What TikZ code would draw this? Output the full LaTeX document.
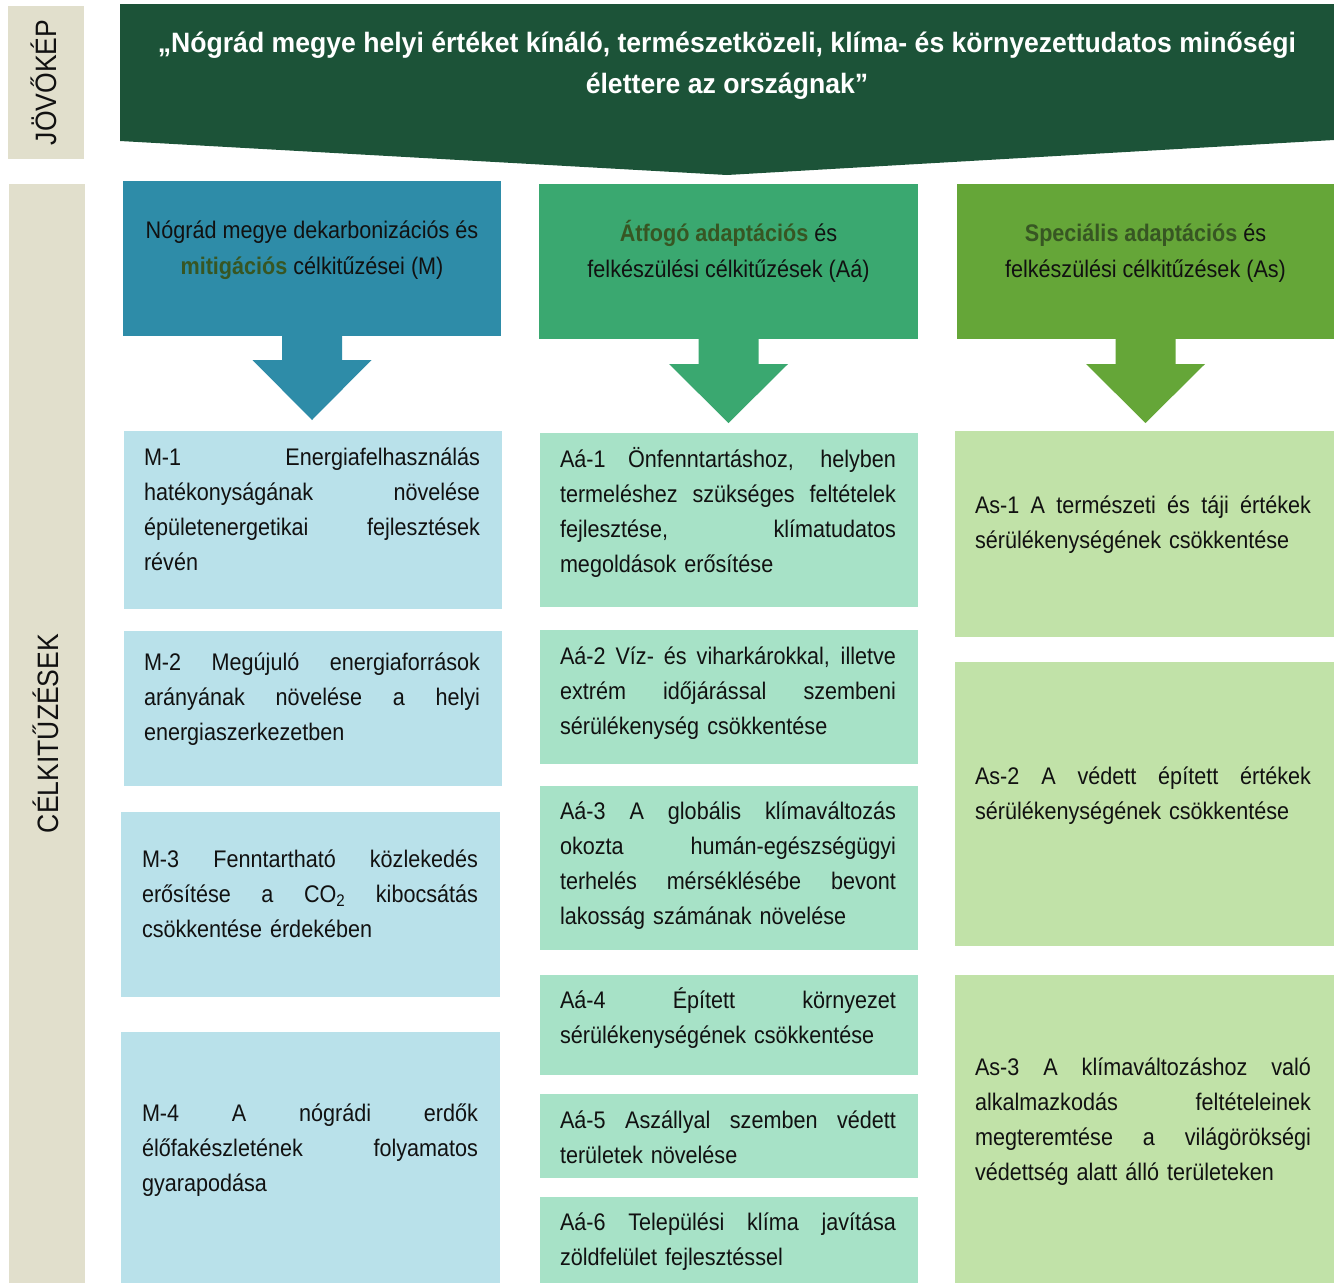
\documentclass[tikz,border=0pt]{standalone}
\usepackage{fontspec}
\setmainfont{Liberation Sans}[FakeStretch=0.9]
\newfontfamily\bannerfont{Liberation Sans}[FakeStretch=0.95]
\usetikzlibrary{calc}
\definecolor{labelbg}{HTML}{E1DFCC}
\definecolor{bannerc}{HTML}{1C5338}
\definecolor{hdA}{HTML}{2E8CA8}
\definecolor{ltA}{HTML}{B9E1EA}
\definecolor{hdB}{HTML}{3AA870}
\definecolor{ltB}{HTML}{A7E2C7}
\definecolor{hdC}{HTML}{65A638}
\definecolor{ltC}{HTML}{C1E2A8}
\definecolor{hlc}{HTML}{375623}
\definecolor{txt}{HTML}{111111}
\newcommand\JL[1]{\leavevmode\hbox to 336pt{\spaceskip=0.28em plus 1fil\relax #1}}
\newcommand\hlw[1]{\textbf{\textcolor{hlc}{#1}}}
\newcommand\panel[6]{\node[panel, fill=#2, minimum width={(#5-#3)*1pt}, minimum height={(#6-#4)*1pt}] (#1) at (#3,#4) {};}
\newcommand\downarr[3]{% node, color, y-stem
  \fill[#2] ($(#1.south)+(-30,0)$) -- ($(#1.south)+(30,0)$) -- ($(#1.south)+(30,#3)$) -- ($(#1.south)+(59.5,#3)$) -- ($(#1.south)+(0,84)$) -- ($(#1.south)+(-59.5,#3)$) -- ($(#1.south)+(-30,#3)$) -- cycle;}
\tikzset{
  panel/.style={rectangle, inner sep=0pt, outer sep=0pt, anchor=north west, draw=none},
  body/.style={inner sep=0pt, outer sep=0pt, anchor=base west, text width=336pt, align=left, text=txt, font=\fontsize{24}{35.3}\selectfont},
  head/.style={inner sep=0pt, outer sep=0pt, anchor=base, align=center, text=txt, font=\fontsize{24}{36}\selectfont},
  vlabel/.style={rotate=90, inner sep=0pt, text=txt, font=\fontsize{29.5}{30}\selectfont}
}
\begin{document}
\begin{tikzpicture}[x=1pt,y=-1pt]
\useasboundingbox (0,0) rectangle (1334,1283);
\fill[white] (0,0) rectangle (1334,1283);
% left labels
\panel{lab1}{labelbg}{8}{6}{84}{159}
\panel{lab2}{labelbg}{8.5}{184}{85}{1283}
\node[vlabel] (lab1t) at ([xshift=-2pt]lab1.center) {JÖVŐKÉP};
\node[vlabel] (lab2t) at ([xshift=-1pt]lab2.center) {CÉLKITŰZÉSEK};
% banner
\fill[bannerc] (120,4) -- (1334,4) -- (1334,140) -- (727,175) -- (120,141) -- cycle;
\node[inner sep=0pt, anchor=base, align=center, text=white, font=\bannerfont\bfseries\fontsize{28}{41}\selectfont] (vision) at (727,93)
  {„Nógrád megye helyi értéket kínáló, természetközeli, klíma- és környezettudatos minőségi\\ élettere az országnak”};
% headers
\panel{h1}{hdA}{123}{181}{501}{336}
\panel{h2}{hdB}{539}{184}{918}{339}
\panel{h3}{hdC}{957}{184}{1334}{339}
\node[head] (h1t) at (312,274) {Nógrád megye dekarbonizációs és\\ \hlw{mitigációs} célkitűzései (M)};
\node[head] (h2t) at (728.5,277) {\hlw{Átfogó adaptációs} és\\ felkészülési célkitűzések (Aá)};
\node[head] (h3t) at (1145.5,277) {\hlw{Speciális adaptációs} és\\ felkészülési célkitűzések (As)};
\downarr{h1}{hdA}{24}
\downarr{h2}{hdB}{25}
\downarr{h3}{hdC}{25}
% column 1
\panel{m1}{ltA}{124}{431}{502}{609}
\panel{m2}{ltA}{124}{631}{502}{786}
\panel{m3}{ltA}{121}{812}{500}{997}
\panel{m4}{ltA}{121}{1032}{500}{1283}
\node[body] (m1t) at (144,465) {\JL{M-1 Energiafelhasználás}\\\JL{hatékonyságának növelése}\\\JL{épületenergetikai fejlesztések}\\révén};
\node[body] (m2t) at (144,670) {\JL{M-2 Megújuló energiaforrások}\\\JL{arányának növelése a helyi}\\energiaszerkezetben};
\node[body] (m3t) at (142,867) {\JL{M-3 Fenntartható közlekedés}\\\JL{erősítése a CO\textsubscript{2} kibocsátás}\\csökkentése érdekében};
\node[body] (m4t) at (142,1121) {\JL{M-4 A nógrádi erdők}\\\JL{élőfakészletének folyamatos}\\gyarapodása};
% column 2
\panel{a1}{ltB}{540}{433}{918}{607}
\panel{a2}{ltB}{540}{630}{918}{764}
\panel{a3}{ltB}{540}{786}{918}{950}
\panel{a4}{ltB}{540}{975}{918}{1075}
\panel{a5}{ltB}{540}{1094}{918}{1178}
\panel{a6}{ltB}{540}{1197}{918}{1283}
\node[body] (a1t) at (560,467) {\JL{Aá-1 Önfenntartáshoz, helyben}\\\JL{termeléshez szükséges feltételek}\\\JL{fejlesztése, klímatudatos}\\megoldások erősítése};
\node[body] (a2t) at (560,664) {\JL{Aá-2 Víz- és viharkárokkal, illetve}\\\JL{extrém időjárással szembeni}\\sérülékenység csökkentése};
\node[body] (a3t) at (560,819) {\JL{Aá-3 A globális klímaváltozás}\\\JL{okozta humán-egészségügyi}\\\JL{terhelés mérséklésébe bevont}\\lakosság számának növelése};
\node[body] (a4t) at (560,1008) {\JL{Aá-4 Épített környezet}\\sérülékenységének csökkentése};
\node[body] (a5t) at (560,1128) {\JL{Aá-5 Aszállyal szemben védett}\\területek növelése};
\node[body] (a6t) at (560,1230) {\JL{Aá-6 Települési klíma javítása}\\zöldfelület fejlesztéssel};
% column 3
\panel{s1}{ltC}{955}{431}{1334}{637}
\panel{s2}{ltC}{955}{662}{1334}{946}
\panel{s3}{ltC}{955}{975}{1334}{1283}
\node[body] (s1t) at (975,513) {\JL{As-1 A természeti és táji értékek}\\sérülékenységének csökkentése};
\node[body] (s2t) at (975,784) {\JL{As-2 A védett épített értékek}\\sérülékenységének csökkentése};
\node[body] (s3t) at (975,1075) {\JL{As-3 A klímaváltozáshoz való}\\\JL{alkalmazkodás feltételeinek}\\\JL{megteremtése a világörökségi}\\védettség alatt álló területeken};
\end{tikzpicture}
\end{document}
